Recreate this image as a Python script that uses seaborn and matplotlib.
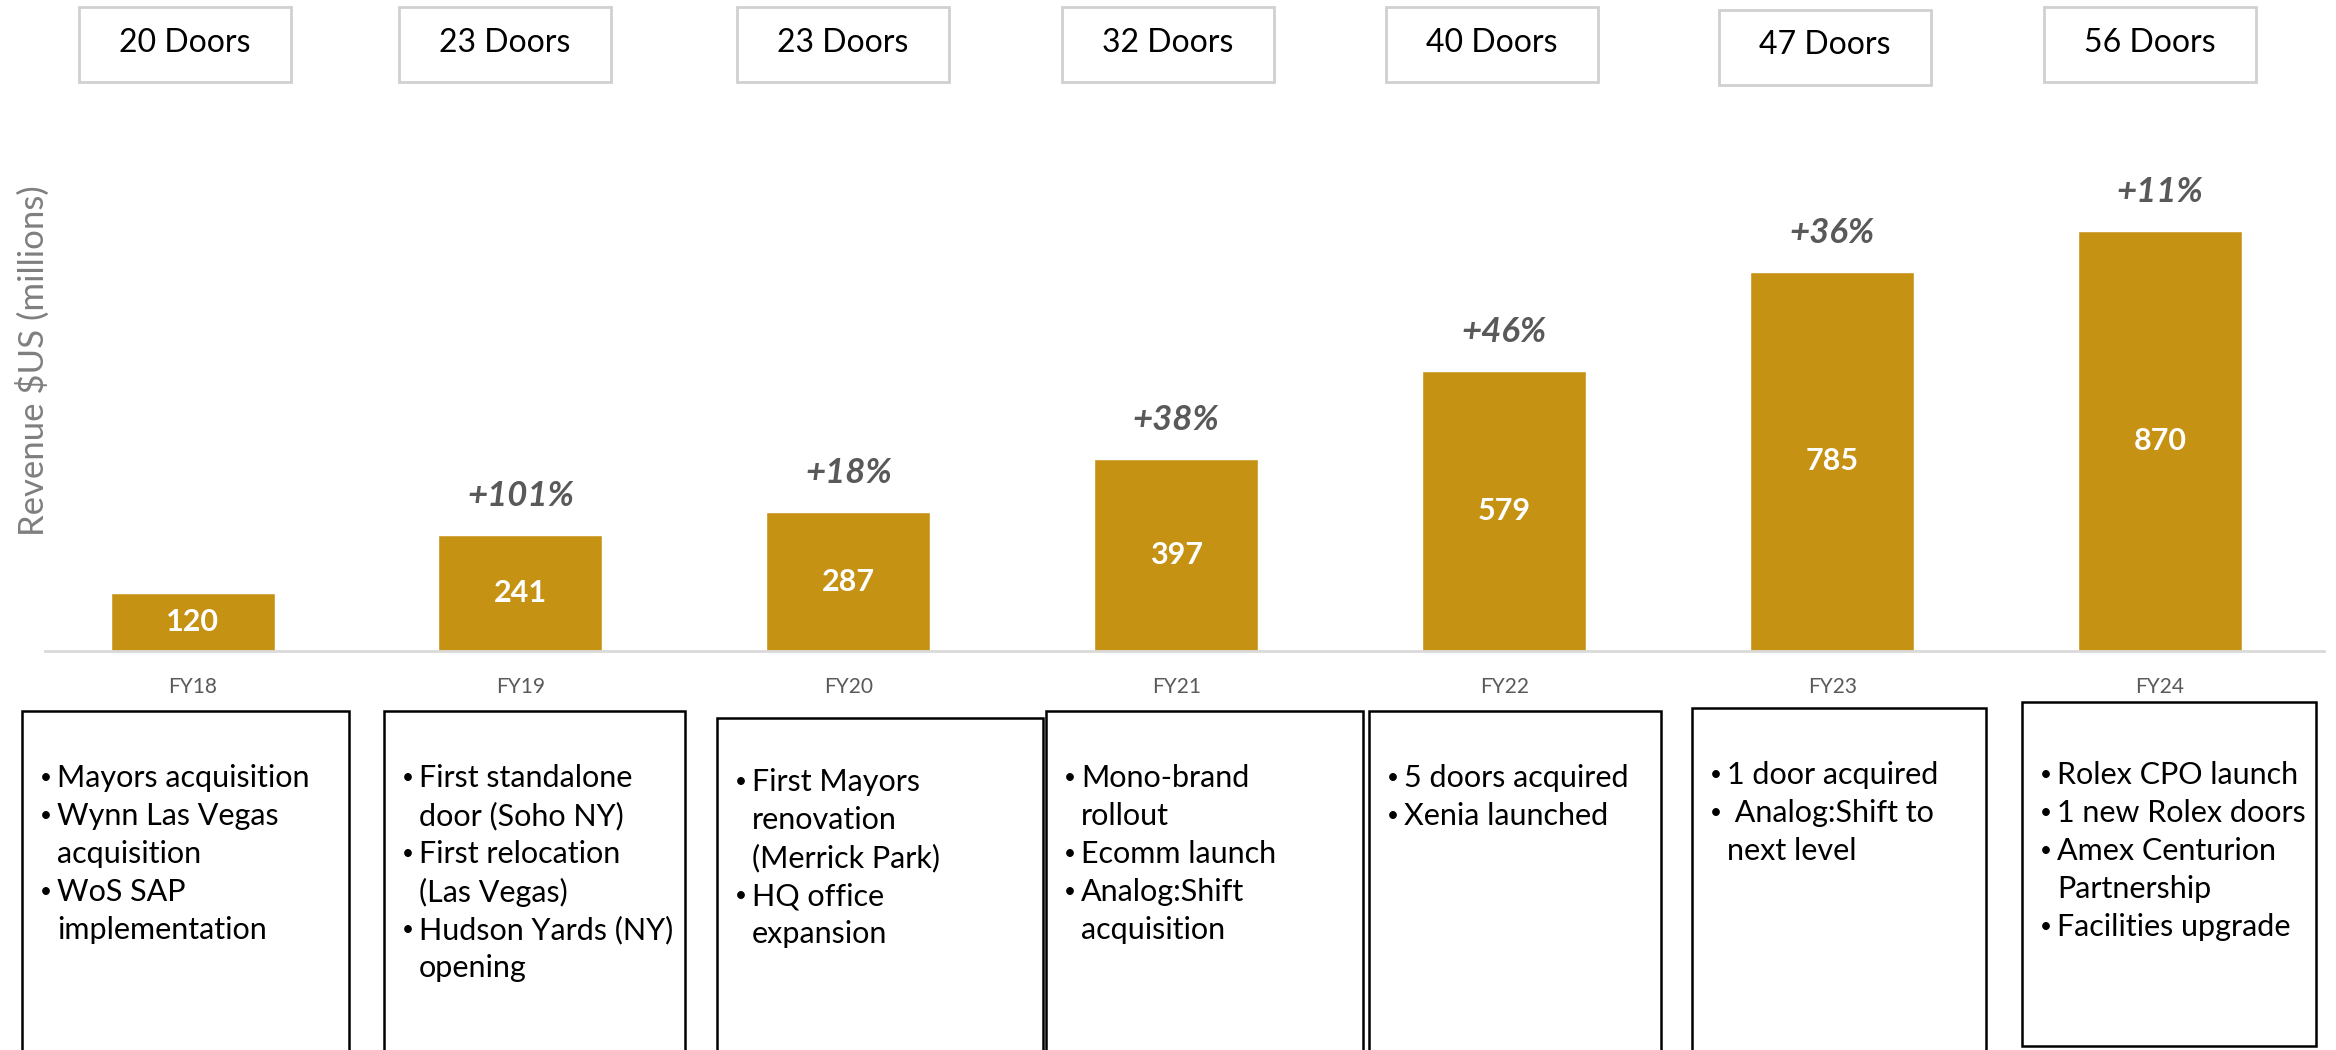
import matplotlib
matplotlib.use("Agg")
import matplotlib.pyplot as plt
import seaborn as sns
import pandas as pd
from matplotlib.patches import Rectangle

# ---------------- data ----------------
years = ["FY18", "FY19", "FY20", "FY21", "FY22", "FY23", "FY24"]
revenue = [120, 241, 287, 397, 579, 785, 870]
growth = ["", "+101%", "+18%", "+38%", "+46%", "+36%", "+11%"]
doors = [20, 23, 23, 32, 40, 47, 56]
highlights = [
    [["Mayors acquisition"], ["Wynn Las Vegas", "acquisition"], ["WoS SAP", "implementation"]],
    [["First standalone", "door (Soho NY)"], ["First relocation", "(Las Vegas)"], ["Hudson Yards (NY)", "opening"]],
    [["First Mayors", "renovation", "(Merrick Park)"], ["HQ office", "expansion"]],
    [["Mono-brand", "rollout"], ["Ecomm launch"], ["Analog:Shift", "acquisition"]],
    [["5 doors acquired"], ["Xenia launched"]],
    [["1 door acquired"], [" Analog:Shift to", "next level"]],
    [["Rolex CPO launch"], ["1 new Rolex doors"], ["Amex Centurion", "Partnership"], ["Facilities upgrade"]],
]

# ---------------- style ----------------
sns.set_style("white")
FONT = ["Lato", "DejaVu Sans"]
plt.rcParams["font.family"] = FONT

W, H = 2336, 1050
BAR = "#C59214"
GREY = "#595959"

fig = plt.figure(figsize=(W / 100, H / 100), dpi=100)

def fx(x):
    return x / W

def fy(y):
    return 1 - y / H

# main axes
ax_left, ax_right = 45, 2324
ax_top, ax_base = 168, 651
ax = fig.add_axes([fx(ax_left), fy(ax_base), fx(ax_right - ax_left), (ax_base - ax_top) / H])

df = pd.DataFrame({"year": years, "revenue": revenue})
sns.barplot(data=df, x="year", y="revenue", color=BAR, saturation=1, width=0.5, ax=ax)
ax.set_xlim(-0.45, 6.5)
ax.set_ylim(0, 1000)

for s in ["top", "right", "left"]:
    ax.spines[s].set_visible(False)
ax.spines["bottom"].set_color("#d9d9d9")
ax.spines["bottom"].set_linewidth(2)
ax.set_yticks([])
ax.set_xlabel("")
ax.set_ylabel("")
ax.tick_params(axis="x", length=0, pad=19, labelsize=15, labelcolor=GREY)
fig.text(fx(33), fy(361), "Revenue $US (millions)", rotation=90, ha="center", va="center",
         fontsize=25, color="#7f7f7f")

for i, p in enumerate(ax.patches):
    xc = p.get_x() + p.get_width() / 2
    h = p.get_height()
    ax.text(xc, h / 2, f"{revenue[i]:.0f}", ha="center", va="center",
            color="white", fontsize=22, fontweight="bold")
    if growth[i]:
        ax.annotate(growth[i], (xc, h), xytext=(0, 28), textcoords="offset points",
                    ha="center", va="center", fontsize=25, fontweight="bold",
                    fontstyle="italic", color=GREY)

# door boxes (top)
door_boxes = [(79, 7), (399, 7), (737, 7), (1062, 7), (1386, 7), (1719, 10), (2044, 7)]
bw, bh = 212, 75
for (x0, y0), d in zip(door_boxes, doors):
    fig.patches.append(Rectangle((fx(x0), fy(y0 + bh)), bw / W, bh / H,
                                 transform=fig.transFigure, fill=False,
                                 edgecolor="#d0d0d0", linewidth=2))
    fig.text(fx(x0 + bw / 2), fy(y0 + bh / 2 - 2), f"{d} Doors", ha="center", va="center",
             fontsize=23, color="black")

# bottom boxes
bottom_boxes = [(22, 711, 349), (384, 711, 685), (717, 718, 1043), (1046, 711, 1363),
                (1369, 711, 1661), (1692, 708, 1986), (2022, 702, 2316)]
first_line = [778, 778, 782, 778, 778, 775, 775]
line_h = 38
for k, ((x0, y0, x1), items) in enumerate(zip(bottom_boxes, highlights)):
    y1 = 1046 if k == 6 else H + 5
    fig.patches.append(Rectangle((fx(x0), fy(y1)), (x1 - x0) / W, (y1 - y0) / H,
                                 transform=fig.transFigure, fill=False,
                                 edgecolor="black", linewidth=1.8, clip_on=False))
    y = first_line[k]
    bx = x0 + 24
    tx = x0 + 35
    for item in items:
        fig.text(fx(bx), fy(y), "\u2022", ha="center", va="center", fontsize=15, color="black")
        for line in item:
            fig.text(fx(tx), fy(y), line, ha="left", va="center", fontsize=22, color="black")
            y += line_h

fig.savefig("out.png", dpi=100)
